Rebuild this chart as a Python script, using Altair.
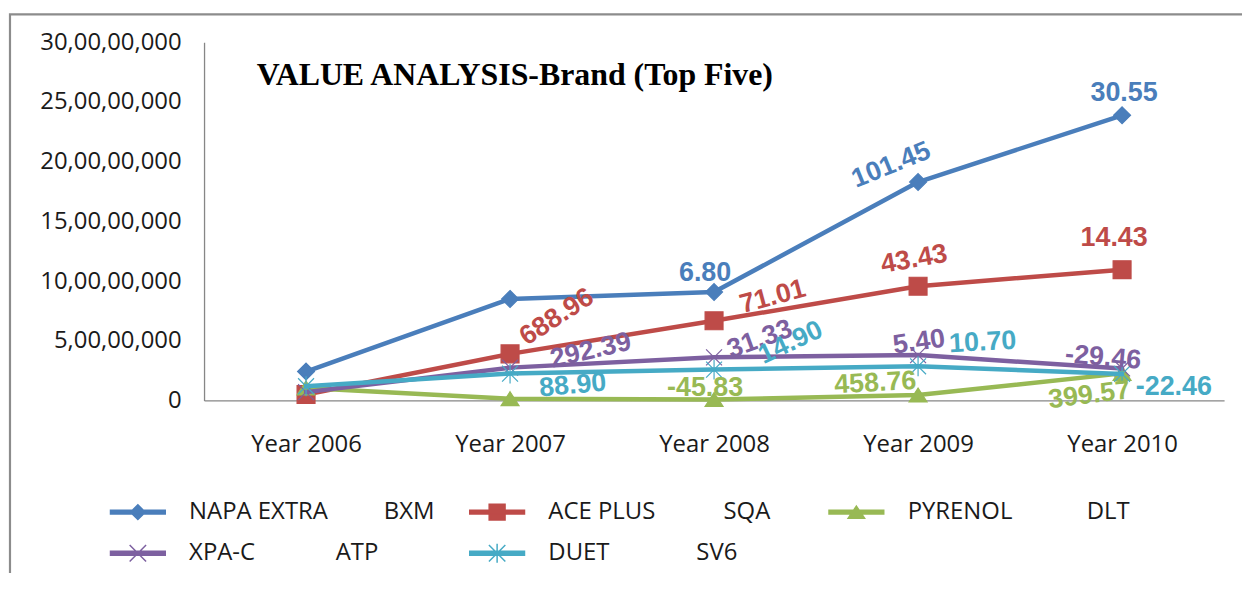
import math
import altair as alt
import pandas as pd

# ---------------- data ----------------
years = ["Year 2006", "Year 2007", "Year 2008", "Year 2009", "Year 2010"]
series_names = ["NAPA EXTRA", "ACE PLUS", "PYRENOL", "XPA-C", "DUET"]
partner_names = ["BXM", "SQA", "DLT", "ATP", "SV6"]

napa_extra = [24200000, 85000000, 90800000, 182900000, 238800000]
ace_plus = [4950000, 39000000, 66700000, 95700000, 109500000]
pyrenol = [10500000, 1500000, 810000, 4540000, 22700000]
xpa_c = [7000000, 27500000, 36100000, 38000000, 26800000]
duet = [11900000, 22500000, 25850000, 28600000, 22200000]

napa_growth = [None, None, "6.80", "101.45", "30.55"]
ace_growth = [None, "688.96", "71.01", "43.43", "14.43"]
pyrenol_growth = [None, None, "-45.83", "458.76", "399.57"]
xpa_growth = [None, "292.39", "31.33", "5.40", "-29.46"]
duet_growth = [None, "88.90", "14.90", "10.70", "-22.46"]

y_ticks = [0, 50000000, 100000000, 150000000, 200000000, 250000000, 300000000]
title_text = "VALUE ANALYSIS-Brand (Top Five)"

# ---------------- styles ----------------
colors = ["#4A7EBB", "#BE4B48", "#98B954", "#7D60A0", "#46AAC5"]
marker_paths = [
    "M0,-0.85 L0.85,0 L0,0.85 L-0.85,0 Z",
    "M-0.9,-0.9 L0.9,-0.9 L0.9,0.9 L-0.9,0.9 Z",
    "M0,-0.7 L0.9,0.7 L-0.9,0.7 Z",
    "M-0.8,-0.8 L0.8,0.8 M-0.8,0.8 L0.8,-0.8",
    "M-0.8,-0.8 L0.8,0.8 M-0.8,0.8 L0.8,-0.8 M0,-1 L0,1",
]
line_bar = "M-1,-0.07 L1,-0.07 L1,0.07 L-1,0.07 Z "
legend_paths = [
    line_bar + "M0,-0.27 L0.27,0 L0,0.27 L-0.27,0 Z",
    line_bar + "M-0.29,-0.29 L0.29,-0.29 L0.29,0.29 L-0.29,0.29 Z",
    line_bar + "M0,-0.22 L0.3,0.22 L-0.3,0.22 Z",
    line_bar + "M-0.3,-0.3 L0.3,0.3 M-0.3,0.3 L0.3,-0.3",
    line_bar + "M-0.3,-0.3 L0.3,0.3 M-0.3,0.3 L0.3,-0.3 M0,-0.35 L0,0.35",
]
legend_gaps = [9, 11, 12, 13, 14]

# label placement: (screen dx, screen dy, angle)
label_style = {
    (0, 2): (-9, -19, 0), (0, 3): (-27, -17, 338), (0, 4): (2, -22, 0),
    (1, 1): (47, -37, 327), (1, 2): (59, -24, 345), (1, 3): (-4, -27, 350), (1, 4): (-8, -32, 0),
    (2, 2): (-9, -12, 0), (2, 3): (-43, -12, 357), (2, 4): (-33, 22, 353),
    (3, 1): (81, -17, 347), (3, 2): (46, -18, 340), (3, 3): (1, -13, 352), (3, 4): (-19, -11, 5),
    (4, 1): (63, 12, 355), (4, 2): (77, -27, 335), (4, 3): (65, -24, 357), (4, 4): (52, 13, 0),
}

all_values = [napa_extra, ace_plus, pyrenol, xpa_c, duet]
all_growth = [napa_growth, ace_growth, pyrenol_growth, xpa_growth, duet_growth]

FONT = "Open Sans"

x_enc = alt.X(
    "year:N",
    scale=alt.Scale(type="point", domain=years, padding=0.5),
    axis=alt.Axis(title=None, labelAngle=0, ticks=False, grid=False, labelPadding=32,
                  domainColor="#868686", domainWidth=1.3, labelFont=FONT,
                  labelFontSize=24, labelColor="#1a1a1a"),
)
y_enc = alt.Y(
    "value:Q",
    scale=alt.Scale(domain=[0, 300000000], nice=False, zero=True),
    axis=alt.Axis(title=None, values=y_ticks, ticks=False, grid=False, labelPadding=23,
                  domainColor="#868686", domainWidth=1.3, labelFont=FONT,
                  labelFontSize=24, labelColor="#1a1a1a",
                  labelExpr="datum.value == 0 ? '0' : (datum.value / 10000000) + ',00,00,000'"),
)

layers = []

# border of the chart area (decoration)
border = alt.Chart(pd.DataFrame({"a": [0]})).mark_rect(
    fill=None, stroke="#8C8C8C", strokeWidth=2.2
).encode(x=alt.value(-195), x2=alt.value(1060), y=alt.value(-28), y2=alt.value(620))
layers.append(border)

for i, name in enumerate(series_names):
    df = pd.DataFrame({"year": years, "value": all_values[i], "series": name})
    base = alt.Chart(df).encode(x=x_enc, y=y_enc)
    layers.append(base.mark_line(color=colors[i], strokeWidth=4.5,
                                 strokeCap="round", strokeJoin="round"))
    layers.append(base.mark_point(shape=marker_paths[i], size=400, filled=True,
                                  fill=colors[i], stroke=colors[i], strokeWidth=1.2,
                                  opacity=1))

for i, name in enumerate(series_names):
    for j, lab in enumerate(all_growth[i]):
        if lab is None:
            continue
        ox, oy, ang = label_style[(i, j)]
        t = math.radians(ang)
        dx = ox * math.cos(t) + oy * math.sin(t)
        dy = -ox * math.sin(t) + oy * math.cos(t)
        df = pd.DataFrame({"year": [years[j]], "value": [all_values[i][j]], "label": [lab]})
        layers.append(alt.Chart(df).mark_text(
            font="Liberation Sans", fontWeight="bold", fontSize=27, color=colors[i],
            align="center", baseline="middle", angle=ang, dx=dx, dy=dy
        ).encode(x=x_enc, y=y_enc, text="label:N"))

# title inside plot area
layers.append(alt.Chart(pd.DataFrame({"t": [title_text]})).mark_text(
    font="Liberation Serif", fontWeight="bold", fontSize=32, color="#000000",
    align="left", baseline="alphabetic"
).encode(x=alt.value(53), y=alt.value(43), text="t:N"))

# legend carrier layer (draws nothing itself)
legend_labels = [f"{a}{chr(160) * g}{b}" for a, b, g in zip(series_names, partner_names, legend_gaps)]
leg = alt.Legend(title=None, orient="none", legendX=-95, legendY=443, columns=3,
                 direction="horizontal", symbolSize=3025, labelFont=FONT, labelFontSize=24,
                 labelColor="#1a1a1a", labelLimit=500, labelOffset=23, columnPadding=32,
                 rowPadding=-16, gridAlign="all", symbolStrokeWidth=1.5, padding=0)
legend_layer = alt.Chart(pd.DataFrame({"legend_label": legend_labels})).transform_filter(
    "false"
).mark_point(filled=True, opacity=1, strokeWidth=1.5).encode(
    color=alt.Color("legend_label:N", scale=alt.Scale(domain=legend_labels, range=colors), legend=leg),
    shape=alt.Shape("legend_label:N", scale=alt.Scale(domain=legend_labels, range=legend_paths), legend=leg),
    stroke=alt.Stroke("legend_label:N", scale=alt.Scale(domain=legend_labels, range=colors), legend=leg),
)
layers.append(legend_layer)

chart = alt.layer(*layers).properties(
    width=1025, height=360,
    autosize=alt.AutoSizeParams(type="none"),
    padding={"left": 197, "top": 33, "right": 18, "bottom": 172},
).configure(background="white").configure_view(stroke=None)

chart.save("out.html", embed_options={"renderer": "svg", "actions": False})
